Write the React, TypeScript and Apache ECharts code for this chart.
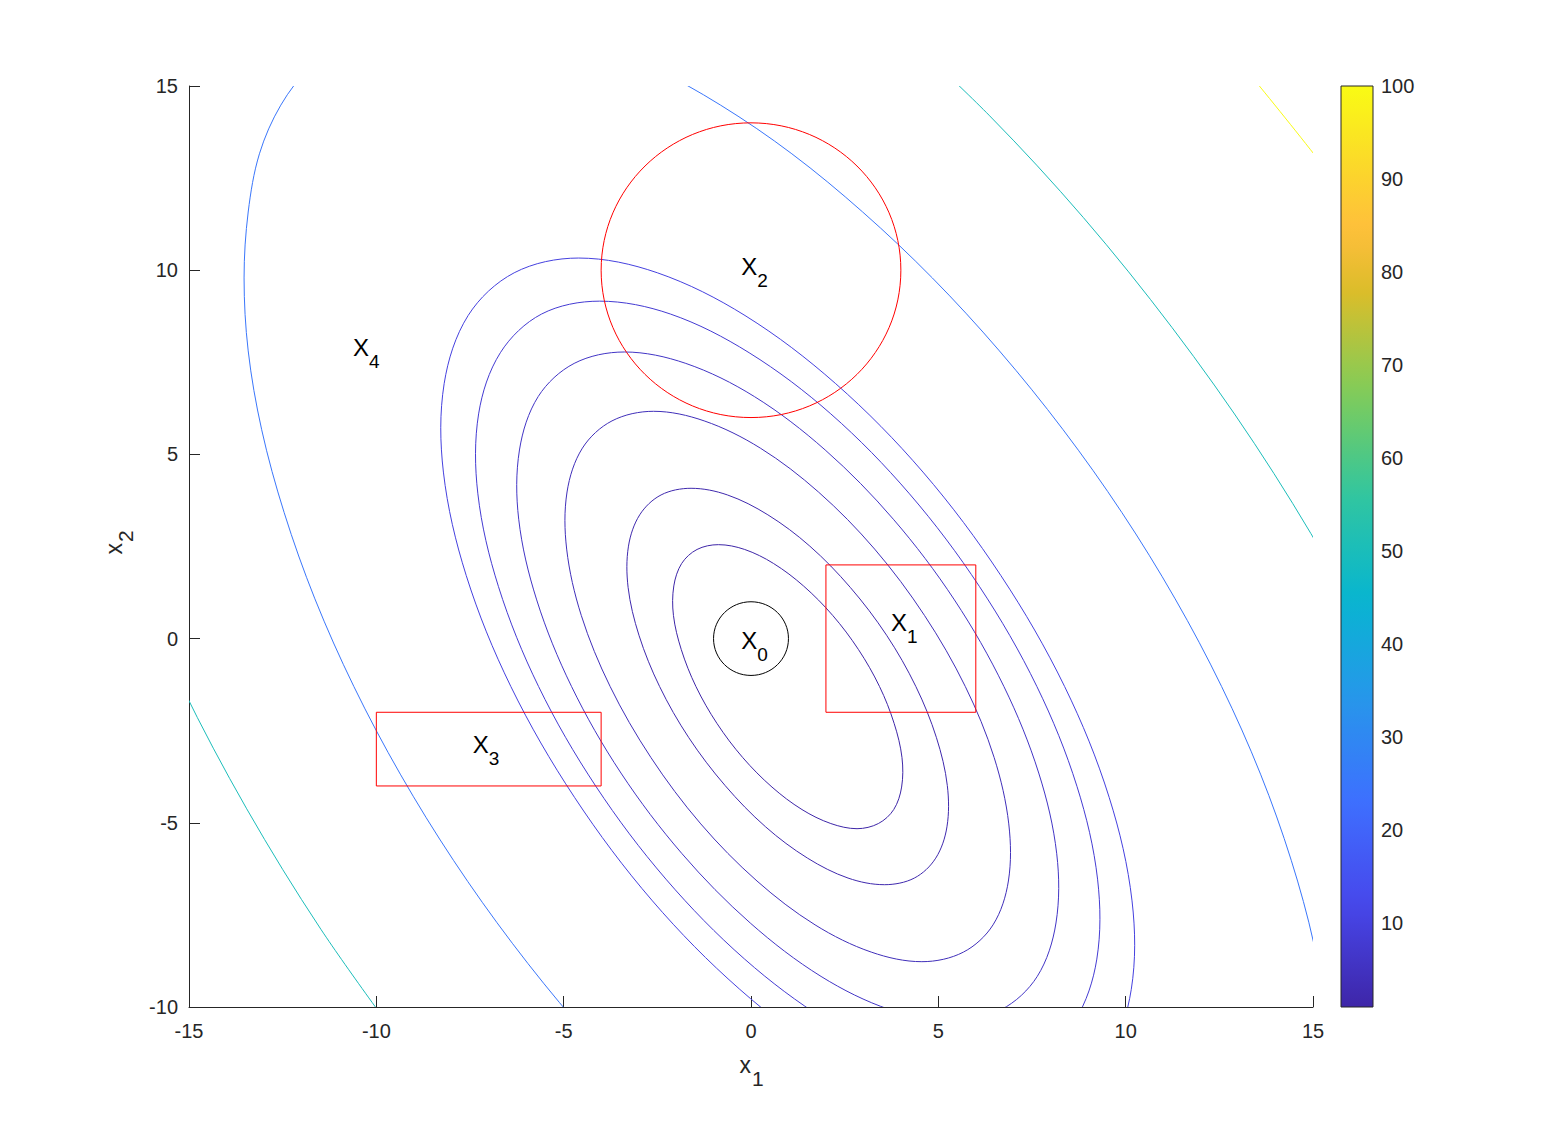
import { useEffect, useRef } from "react";
import * as echarts from "echarts";

const FONT = '"Liberation Sans", Arial, Helvetica, sans-serif';
const AXIS_COLOR = "#262626";

// ---- axes ----
const xMin = -15;
const xMax = 15;
const yMin = -10;
const yMax = 15;
const tickStep = 5;
const colorbarMin = 1;
const colorbarMax = 100;
const colorbarTicks = [10, 20, 30, 40, 50, 60, 70, 80, 90, 100];

// ---- contour lines (x1, x2) ----
const contourLevel1 = [[3.43,-1.30],[2.87,-0.30],[2.18,0.63],[1.40,1.43],[0.60,2.04],[-0.17,2.42],[-0.87,2.55],[-1.44,2.42],[-1.85,2.04],[-2.06,1.43],[-2.07,0.63],[-1.86,-0.30],[-1.47,-1.30],[-0.91,-2.30],[-0.22,-3.23],[0.56,-4.03],[1.36,-4.64],[2.13,-5.02],[2.83,-5.16],[3.40,-5.02],[3.81,-4.64],[4.02,-4.03],[4.03,-3.23],[3.82,-2.30]];
const contourLevel2 = [[4.40,-1.30],[3.62,0.09],[2.65,1.39],[1.57,2.51],[0.45,3.36],[-0.63,3.90],[-1.60,4.08],[-2.40,3.90],[-2.97,3.36],[-3.27,2.51],[-3.28,1.39],[-2.99,0.09],[-2.44,-1.30],[-1.66,-2.69],[-0.69,-3.99],[0.39,-5.11],[1.51,-5.96],[2.59,-6.50],[3.56,-6.68],[4.36,-6.50],[4.93,-5.96],[5.23,-5.11],[5.24,-3.99],[4.95,-2.69]];
const contourLevel4 = [[5.72,-1.30],[4.63,0.63],[3.30,2.43],[1.80,3.98],[0.25,5.17],[-1.25,5.91],[-2.60,6.17],[-3.71,5.91],[-4.50,5.17],[-4.91,3.98],[-4.92,2.43],[-4.53,0.63],[-3.76,-1.30],[-2.67,-3.23],[-1.34,-5.03],[0.16,-6.58],[1.71,-7.77],[3.21,-8.51],[4.56,-8.77],[5.67,-8.51],[6.46,-7.77],[6.87,-6.58],[6.88,-5.03],[6.49,-3.23]];
const contourLevel6 = [[5.34,-10.38],[6.68,-10.07],[7.64,-9.17],[8.14,-7.72],[8.16,-5.84],[7.68,-3.65],[6.75,-1.30],[5.43,1.05],[3.80,3.24],[1.98,5.12],[0.09,6.57],[-1.74,7.47],[-3.38,7.78],[-4.72,7.47],[-5.68,6.57],[-6.18,5.12],[-6.20,3.24],[-5.72,1.05],[-4.79,-1.30],[-3.47,-3.65],[-1.84,-5.84],[-0.02,-7.72],[1.87,-9.17],[3.70,-10.07],[5.34,-10.38]];
const contourLevel8 = [[6.00,-11.76],[7.55,-11.41],[8.65,-10.36],[9.23,-8.70],[9.25,-6.53],[8.70,-4.01],[7.63,-1.30],[6.10,1.41],[4.23,3.93],[2.13,6.10],[-0.05,7.76],[-2.15,8.81],[-4.04,9.16],[-5.59,8.81],[-6.69,7.76],[-7.27,6.10],[-7.29,3.93],[-6.74,1.41],[-5.67,-1.30],[-4.14,-4.01],[-2.27,-6.53],[-0.17,-8.70],[2.01,-10.36],[4.09,-11.41],[6.00,-11.76]];
const contourLevel10 = [[6.56,-12.93],[8.28,-12.53],[9.51,-11.37],[10.15,-9.52],[10.17,-7.12],[9.56,-4.31],[8.37,-1.30],[6.67,1.71],[4.59,4.52],[2.26,6.92],[-0.16,8.77],[-2.50,9.93],[-4.60,10.33],[-6.32,9.93],[-7.55,8.77],[-8.19,6.92],[-8.21,4.52],[-7.60,1.71],[-6.41,-1.30],[-4.71,-4.31],[-2.63,-7.12],[-0.30,-9.52],[2.12,-11.37],[4.46,-12.53],[6.56,-12.93]];
const contourLevel25Left = [[-10.70,16.30],[-11.75,15.53],[-12.55,14.48],[-13.12,13.16],[-13.42,11.58],[-13.53,9.79],[-13.42,7.81],[-13.06,5.67],[-12.46,3.42],[-11.64,1.08],[-10.60,-1.30],[-9.36,-3.68],[-7.94,-6.02],[-6.37,-8.27],[-4.67,-10.41],[-2.88,-12.39]];
const contourLevel25Right = [[15.49,-12.39],[15.38,-10.41],[15.02,-8.27],[14.42,-6.02],[13.60,-3.68],[12.56,-1.30],[11.32,1.08],[9.90,3.42],[8.33,5.67],[6.63,7.81],[4.84,9.79],[2.98,11.58],[1.09,13.16],[-0.81,14.48],[-2.67,15.53],[-4.47,16.30]];
const contourLevel50Upper = [[17.15,-1.30],[15.42,2.02],[13.44,5.29],[11.24,8.44],[8.87,11.43],[6.37,14.19],[3.78,16.70]];
const contourLevel50Lower = [[-16.65,2.02],[-15.19,-1.30],[-13.46,-4.62],[-11.48,-7.89],[-9.28,-11.04]];
const contourLevel100 = [[18.63,8.03],[15.52,12.50],[12.17,16.73]];

// ---- uncertainty sets ----
const boxX0 = [2, -10];
const boxX1 = [6, -4];
const boxY0 = [-2, -4];
const boxY1 = [2, -2];
const circleX = [0, 0];
const circleY = [10, 0];
const circleR = [4, 1];
const circleColor = ["#ff0000", "#000000"];

// ---- point labels ----
const labelX = [-0.05, 3.95, -0.05, -7.21, -10.41];
const labelY = [-0.05, 0.45, 10.11, -2.87, 7.9];
const labelSub = ["0", "1", "2", "3", "4"];

// ---- parula colormap ----
const parulaStops: [number, string][] = [
  [0, "#3e26a8"], [0.111, "#4747eb"], [0.222, "#3e6fff"], [0.333, "#2796eb"],
  [0.444, "#08b5d0"], [0.556, "#31c69f"], [0.667, "#80cc59"], [0.778, "#dcbd29"],
  [0.841, "#febe3c"], [0.889, "#fccf30"], [1, "#f9fb14"],
];
function hexToRgb(h: string) {
  const n = parseInt(h.slice(1), 16);
  return [(n >> 16) & 255, (n >> 8) & 255, n & 255];
}
function parula(t: number) {
  const tt = Math.max(0, Math.min(1, t));
  for (let i = 1; i < parulaStops.length; i++) {
    const [t0, c0] = parulaStops[i - 1];
    const [t1, c1] = parulaStops[i];
    if (tt <= t1) {
      const f = (tt - t0) / (t1 - t0);
      const a = hexToRgb(c0);
      const b = hexToRgb(c1);
      const m = (k: number) => Math.round(a[k] + (b[k] - a[k]) * f);
      return `rgb(${m(0)},${m(1)},${m(2)})`;
    }
  }
  return parulaStops[parulaStops.length - 1][1];
}
const levelColor = (lv: number) => parula((lv - colorbarMin) / (colorbarMax - colorbarMin));

const closedContours = [
  { pts: contourLevel1, level: 1 },
  { pts: contourLevel2, level: 2 },
  { pts: contourLevel4, level: 4 },
];
const openContours = [
  { pts: contourLevel6, level: 6 },
  { pts: contourLevel8, level: 8 },
  { pts: contourLevel10, level: 10 },
  { pts: contourLevel25Left, level: 25 },
  { pts: contourLevel25Right, level: 25 },
  { pts: contourLevel50Upper, level: 50 },
  { pts: contourLevel50Lower, level: 50 },
  { pts: contourLevel100, level: 100 },
];

const SMOOTH = 0.34;

function buildOption(): any {
  const series: any[] = [];

  series.push({
    type: "custom",
    name: "closed",
    xAxisIndex: 0,
    yAxisIndex: 0,
    silent: true,
    clip: true,
    data: closedContours.map(() => [0, 0]),
    renderItem: (params: any, api: any) => {
      const c = closedContours[params.dataIndex];
      const points = c.pts.map((p) => api.coord(p));
      return {
        type: "polygon",
        shape: { points, smooth: SMOOTH },
        style: { fill: "none", stroke: levelColor(c.level), lineWidth: 1 },
      };
    },
  });

  series.push({
    type: "custom",
    name: "open",
    xAxisIndex: 0,
    yAxisIndex: 0,
    silent: true,
    clip: true,
    data: openContours.map(() => [0, 0]),
    renderItem: (params: any, api: any) => {
      const c = openContours[params.dataIndex];
      const points = c.pts.map((p) => api.coord(p));
      return {
        type: "polyline",
        shape: { points, smooth: SMOOTH },
        style: { fill: "none", stroke: levelColor(c.level), lineWidth: 1 },
      };
    },
  });

  series.push({
    type: "custom",
    name: "boxes",
    xAxisIndex: 0,
    yAxisIndex: 0,
    silent: true,
    data: boxX0.map((x0, i) => [x0, boxY0[i], boxX1[i], boxY1[i]]),
    renderItem: (_params: any, api: any) => {
      const tl = api.coord([api.value(0), api.value(3)]);
      const br = api.coord([api.value(2), api.value(1)]);
      return {
        type: "rect",
        shape: { x: tl[0], y: tl[1], width: br[0] - tl[0], height: br[1] - tl[1] },
        style: { fill: "none", stroke: "#ff0000", lineWidth: 1 },
      };
    },
  });

  series.push({
    type: "custom",
    name: "circles",
    xAxisIndex: 0,
    yAxisIndex: 0,
    silent: true,
    data: circleX.map((x, i) => [x, circleY[i], circleR[i]]),
    renderItem: (params: any, api: any) => {
      const c = api.coord([api.value(0), api.value(1)]);
      const r = api.value(2);
      const sz = api.size([r, r]);
      return {
        type: "ellipse",
        shape: { cx: c[0], cy: c[1], rx: sz[0], ry: sz[1] },
        style: { fill: "none", stroke: circleColor[params.dataIndex], lineWidth: 1 },
      };
    },
  });

  series.push({
    type: "custom",
    name: "labels",
    xAxisIndex: 0,
    yAxisIndex: 0,
    silent: true,
    data: labelX.map((x, i) => [x, labelY[i]]),
    renderItem: (params: any, api: any) => {
      const c = api.coord([api.value(0), api.value(1)]);
      return {
        type: "group",
        children: [
          {
            type: "text",
            x: c[0],
            y: c[1],
            style: { text: "X", fontSize: 24, fontFamily: FONT, fill: "#000", align: "center", verticalAlign: "middle" },
          },
          {
            type: "text",
            x: c[0] + 8,
            y: c[1] + 14,
            style: { text: labelSub[params.dataIndex], fontSize: 19, fontFamily: FONT, fill: "#000", align: "left", verticalAlign: "middle" },
          },
        ],
      };
    },
  });

  // colorbar
  series.push({
    type: "custom",
    name: "colorbar",
    xAxisIndex: 1,
    yAxisIndex: 1,
    silent: true,
    data: [[0, colorbarMin, 1, colorbarMax]],
    renderItem: (_params: any, api: any) => {
      const tl = api.coord([api.value(0), api.value(3)]);
      const br = api.coord([api.value(2), api.value(1)]);
      const n = 40;
      const stops = [];
      for (let i = 0; i <= n; i++) stops.push({ offset: i / n, color: parula(i / n) });
      return {
        type: "rect",
        shape: { x: tl[0], y: tl[1], width: br[0] - tl[0], height: br[1] - tl[1] },
        style: {
          fill: new echarts.graphic.LinearGradient(0, 1, 0, 0, stops),
          stroke: AXIS_COLOR,
          lineWidth: 1,
        },
      };
    },
  });

  const axisCommon = {
    type: "value",
    axisLine: { show: true, onZero: false, lineStyle: { color: AXIS_COLOR, width: 1 } },
    axisTick: { show: true, inside: true, length: 11, lineStyle: { color: AXIS_COLOR, width: 1 } },
    splitLine: { show: false },
  };

  const titleText = (text: string, x: number, y: number, size: number, align: string) => ({
    type: "text",
    x,
    y,
    style: { text, fontSize: size, fontFamily: FONT, fill: AXIS_COLOR, align, verticalAlign: "middle" },
  });

  return {
    animation: false,
    backgroundColor: "#ffffff",
    grid: [
      { left: 189, top: 86, width: 1124, height: 921 },
      { left: 1341, top: 86, width: 32, height: 921 },
    ],
    xAxis: [
      {
        ...axisCommon,
        gridIndex: 0,
        min: xMin,
        max: xMax,
        interval: tickStep,
        axisLabel: { fontSize: 20, fontFamily: FONT, color: AXIS_COLOR, margin: 14 },
      },
      { gridIndex: 1, type: "value", min: 0, max: 1, show: false },
    ],
    yAxis: [
      {
        ...axisCommon,
        gridIndex: 0,
        min: yMin,
        max: yMax,
        interval: tickStep,
        axisLabel: { fontSize: 20, fontFamily: FONT, color: AXIS_COLOR, margin: 11 },
      },
      {
        gridIndex: 1,
        type: "value",
        position: "right",
        min: colorbarMin,
        max: colorbarMax,
        axisLine: { show: false, onZero: false },
        axisTick: { show: true, inside: true, length: 9, lineStyle: { color: AXIS_COLOR }, customValues: colorbarTicks },
        axisLabel: { fontSize: 20, fontFamily: FONT, color: AXIS_COLOR, margin: 8, customValues: colorbarTicks },
        splitLine: { show: false },
      },
    ],
    graphic: [
      {
        type: "group",
        x: 751,
        y: 1065,
        children: [titleText("x", 0, 0, 23, "right"), titleText("1", 1, 13, 21, "left")],
      },
      {
        type: "group",
        x: 115,
        y: 543,
        rotation: Math.PI / 2,
        children: [titleText("x", 0, -1.5, 23, "right"), titleText("2", 1, 10.5, 21, "left")],
      },
    ],
    series,
  };
}

export default function App() {
  const ref = useRef<HTMLDivElement>(null);
  useEffect(() => {
    if (!ref.current) return;
    const chart = echarts.init(ref.current, null, { renderer: "svg" });
    chart.setOption(buildOption());
    return () => chart.dispose();
  }, []);
  return (
    <div
      ref={ref}
      style={{ position: "absolute", left: 0, top: 0, width: 1552, height: 1132, background: "#ffffff" }}
    />
  );
}
